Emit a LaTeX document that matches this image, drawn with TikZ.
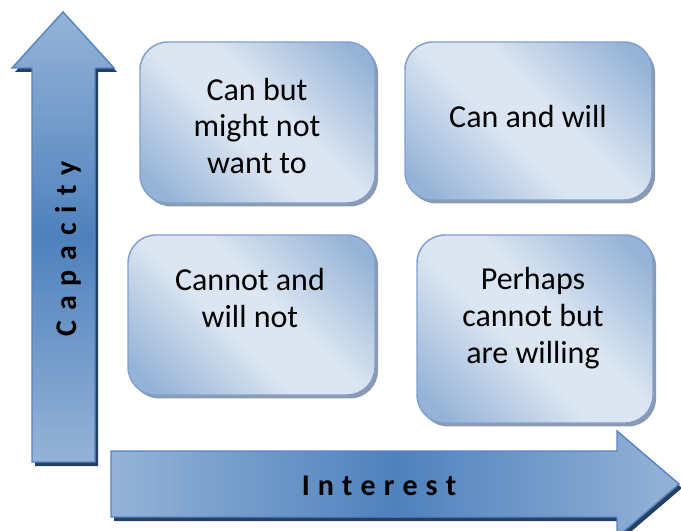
\documentclass[tikz,border=0pt]{standalone}
\usepackage{fontspec}
\setmainfont{Carlito}
\usetikzlibrary{shadows}
\definecolor{boxlight}{HTML}{DCE6F2}
\definecolor{boxdark}{HTML}{95B3D7}
\definecolor{boxline}{HTML}{7FA0CF}
\definecolor{boxshadow}{HTML}{8D99AC}
\definecolor{arrlight}{HTML}{95B3D7}
\definecolor{arrdark}{HTML}{4F81BD}
\definecolor{arrline}{HTML}{5585C2}
\definecolor{arrshadow}{HTML}{254061}
\pgfdeclarehorizontalshading{quadshade}{100bp}{color(0bp)=(boxdark); color(20bp)=(boxdark); color(44bp)=(boxlight); color(56bp)=(boxlight); color(80bp)=(boxdark); color(100bp)=(boxdark)}
\newcommand\lsI{\kern0.27em}
\newcommand\lsC{\kern0.33em}
\tikzset{
  quad/.style={rectangle, rounded corners=21pt, draw=boxline, line width=1.1pt,
    shading=quadshade, shading angle=45, inner sep=0pt, outer sep=0pt,
    general shadow={shadow xshift=2.3pt, shadow yshift=-2.6pt, fill=boxshadow}},
  quadtext/.style={align=center, font=\fontsize{24pt}{27.5pt}\selectfont, text=black, inner sep=0pt},
  axisarrow/.style={draw=arrline, line width=1.1pt, line join=miter},
  axisshadow/.style={fill=arrshadow},
  axislabel/.style={font=\fontsize{22.5pt}{26pt}\selectfont\bfseries, text=black, inner sep=0pt}
}
\begin{document}
\begin{tikzpicture}[x=0.75pt, y=-0.75pt]
\clip (0,0) rectangle (681,531);
\fill[white] (0,0) rectangle (681,531);
% vertical arrow (Capacity)
\fill[axisshadow, shift={(3,4)}] (63,12) -- (114,68) -- (95,68) -- (95,462) -- (32,462) -- (32,68) -- (12,68) -- cycle;
\path[axisarrow, top color=arrlight, bottom color=arrlight, middle color=arrdark] (63,12) -- (114,68) -- (95,68) -- (95,462) -- (32,462) -- (32,68) -- (12,68) -- cycle;
% horizontal arrow (Interest)
\fill[axisshadow, shift={(3,4)}] (111,451) -- (617,451) -- (617,431) -- (679,484) -- (617,537) -- (617,517) -- (111,517) -- cycle;
\path[axisarrow, left color=arrlight, right color=arrlight, middle color=arrdark] (111,451) -- (617,451) -- (617,431) -- (679,484) -- (617,537) -- (617,517) -- (111,517) -- cycle;
\node[axislabel, rotate=90, anchor=base] (cap) at (76,249) {C\lsC a\lsC p\lsC a\lsC c\lsC i\lsC t\lsC y};
\node[axislabel, anchor=base] (int) at (379,495) {I\lsI n\lsI t\lsI e\lsI r\lsI e\lsI s\lsI t};
% quadrant boxes
\node[quad, minimum width=176.25pt, minimum height=120.75pt] (b1) at (257.5,122.5) {};
\node[quad, minimum width=185.25pt, minimum height=118.5pt] (b2) at (528.5,121) {};
\node[quad, minimum width=185.25pt, minimum height=120pt] (b3) at (251.5,315) {};
\node[quad, minimum width=177pt, minimum height=141pt] (b4) at (535,329) {};
\node[quadtext] (t1) at (257,126) {Can but\\might not\\want to};
\node[quadtext] (t2) at (528,117) {Can and will};
\node[quadtext] (t3) at (250,298) {Cannot and\\will not};
\node[quadtext] (t4) at (533,318) {Perhaps\\cannot but\\are willing};
\end{tikzpicture}
\end{document}
